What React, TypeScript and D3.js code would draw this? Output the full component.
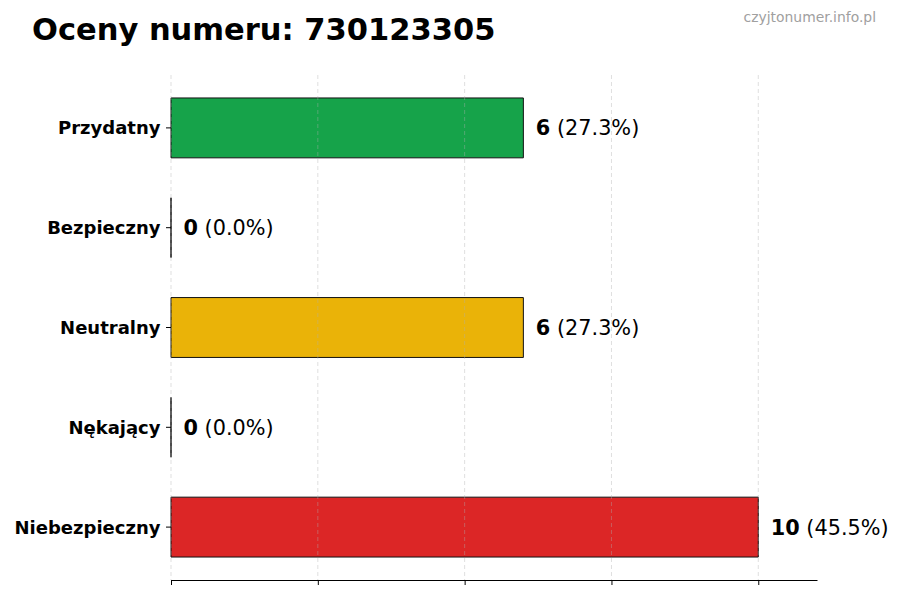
import { useEffect, useRef } from 'react';
import * as d3 from 'd3';

const categories = ['Przydatny', 'Bezpieczny', 'Neutralny', 'Nękający', 'Niebezpieczny'];
const counts = [6, 0, 6, 0, 10];
const percents = ['27.3', '0.0', '27.3', '0.0', '45.5'];
const colors = ['#16a34a', '#9ca3af', '#eab308', '#f97316', '#dc2626'];
const xTicks = [0, 2.5, 5, 7.5, 10];

const title = 'Oceny numeru: 730123305';
const watermark = 'czyjtonumer.info.pl';

export default function App() {
  const svgRef = useRef<SVGSVGElement>(null);

  useEffect(() => {
    if (!svgRef.current) return;
    const width = 900;
    const height = 600;
    const margin = { top: 75, right: 83, bottom: 20, left: 171 };
    const font = '"DejaVu Sans", sans-serif';

    const svg = d3.select(svgRef.current);
    svg.selectAll('*').remove();

    const x = d3.scaleLinear().domain([0, 11]).range([margin.left, width - margin.right]);
    const y = d3.scaleLinear().domain([-0.53, 4.53]).range([margin.top, height - margin.bottom]);
    const barH = (y(0.3) - y(-0.3));

    svg.append('rect').attr('width', width).attr('height', height).attr('fill', '#ffffff');

    // title and watermark
    svg.append('text')
      .attr('x', 32).attr('y', 40)
      .attr('font-family', font).attr('font-weight', 'bold').attr('font-size', 30.5)
      .attr('fill', '#000').text(title);
    svg.append('text')
      .attr('x', 876).attr('y', 22)
      .attr('text-anchor', 'end')
      .attr('font-family', font).attr('font-size', 13.9)
      .attr('fill', '#a0a0a0').text(watermark);

    const data = categories.map((c, i) => ({ c, i, v: counts[i], p: percents[i], col: colors[i] }));

    // bars drawn as closed paths so zero-width bars still show their edge
    svg.append('g').selectAll('path')
      .data(data).join('path')
      .attr('d', d => {
        const p = d3.path();
        p.rect(x(0), y(d.i) - barH / 2, x(d.v) - x(0), barH);
        return p.toString();
      })
      .attr('fill', d => d.col)
      .attr('stroke', '#111')
      .attr('stroke-width', 1);

    // grid above bars
    svg.append('g').selectAll('line')
      .data(xTicks).join('line')
      .attr('x1', d => x(d)).attr('x2', d => x(d))
      .attr('y1', margin.top).attr('y2', height - margin.bottom)
      .attr('stroke', '#b0b0b0').attr('stroke-opacity', 0.5)
      .attr('stroke-width', 0.8).attr('stroke-dasharray', '4,3');

    // x axis (no labels)
    svg.append('g')
      .attr('transform', `translate(0,${height - margin.bottom})`)
      .call(d3.axisBottom(x).tickValues(xTicks).tickSize(5).tickFormat(() => '').tickSizeOuter(0))
      .call(g => g.select('.domain').attr('stroke', '#000').attr('stroke-width', 1))
      .call(g => g.selectAll('.tick line').attr('stroke', '#000').attr('stroke-width', 1));

    // y ticks and labels
    const yg = svg.append('g');
    yg.selectAll('line')
      .data(data).join('line')
      .attr('x1', x(0) - 5).attr('x2', x(0))
      .attr('y1', d => y(d.i)).attr('y2', d => y(d.i))
      .attr('stroke', '#000').attr('stroke-width', 1);
    yg.selectAll('text')
      .data(data).join('text')
      .attr('x', x(0) - 10.5)
      .attr('y', d => y(d.i))
      .attr('dy', '0.36em')
      .attr('text-anchor', 'end')
      .attr('font-family', font).attr('font-weight', 'bold').attr('font-size', 18)
      .attr('fill', '#000')
      .text(d => d.c);

    // value labels
    const vl = svg.append('g').selectAll('text')
      .data(data).join('text')
      .attr('x', d => x(d.v) + 12.5)
      .attr('y', d => y(d.i))
      .attr('dy', '0.36em')
      .attr('font-family', font).attr('font-size', 20.8)
      .attr('fill', '#000');
    vl.append('tspan').attr('font-weight', 'bold').text(d => `${d.v}`);
    vl.append('tspan').text(d => ` (${d.p}%)`);
  }, []);

  return (
    <div style={{ position: 'fixed', left: 0, top: 0, width: 900, height: 600 }}>
      <svg ref={svgRef} width={900} height={600} />
    </div>
  );
}
